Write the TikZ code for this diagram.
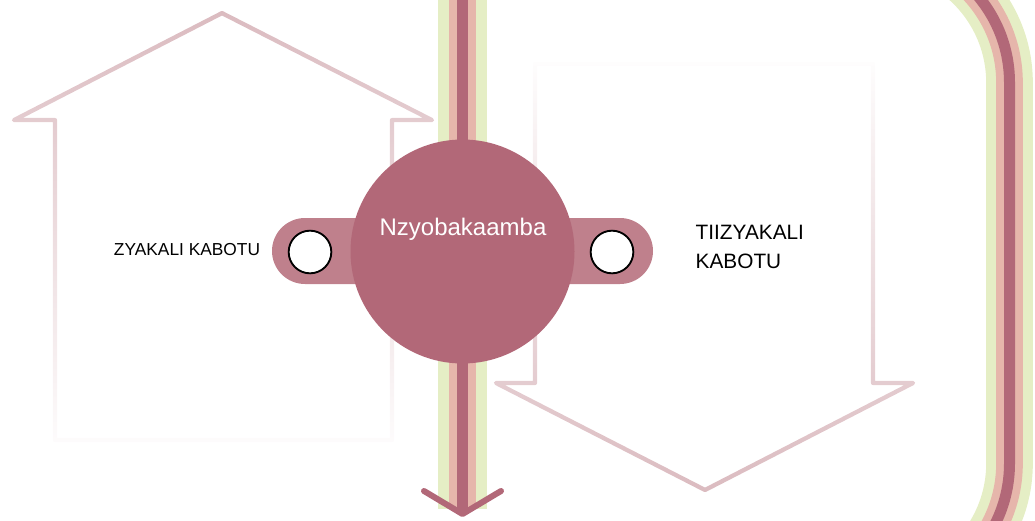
\documentclass[tikz,border=0pt]{standalone}
\usepackage{fontspec}
\setmainfont{Liberation Sans}
\usetikzlibrary{fadings}

\definecolor{hubcol}{HTML}{B26878}
\definecolor{pillcol}{HTML}{BF808C}
\definecolor{leafcol}{HTML}{E5EEC5}
\definecolor{peachcol}{HTML}{E6B6AB}
\definecolor{edgecol}{HTML}{DBBBC0}

\tikzfading[name=fadelow, top color=transparent!0, middle color=transparent!5, bottom color=transparent!95]
\tikzfading[name=fadehigh, top color=transparent!97, middle color=transparent!10, bottom color=transparent!0]

\tikzset{
  block arrow/.style={draw=edgecol, line width=3.2pt, line join=round},
  hole/.style={circle, draw=black, line width=1.4pt, fill=white, minimum size=32pt, inner sep=0pt}
}

\begin{document}
\begin{tikzpicture}[x=0.75pt, y=-0.75pt]
 \useasboundingbox (0,0) rectangle (1035,521);
 \clip (0,0) rectangle (1035,521);
 % right bracket
 \draw [leafcol, line width=35pt, rounded corners=101pt] (700,-52) -- (1009.5,-52) -- (1009.5,598) -- (700,598);
 \draw [peachcol, line width=20pt, rounded corners=101pt] (700,-52) -- (1009.5,-52) -- (1009.5,598) -- (700,598);
 \draw [hubcol, line width=8.25pt, rounded corners=101pt] (700,-52) -- (1009.5,-52) -- (1009.5,598) -- (700,598);
 % middle stripe
 \draw [leafcol, line width=36.5pt] (462.5,-5) -- (462.5,509);
 \draw [peachcol, line width=20pt] (462.5,-5) -- (462.5,509);
 \draw [hubcol, line width=8.25pt] (462.5,-5) -- (462.5,512);
 \draw [hubcol, line width=4.5pt, line cap=round, line join=round] (424,491) -- (462.5,514) -- (501,491);
 % block arrows
 \draw [block arrow, path fading=fadelow] (55,440) -- (55,120) -- (14,120) -- (222,13) -- (432,120) -- (392,120) -- (392,440) -- cycle;
 \draw [block arrow, path fading=fadehigh] (535,64) -- (535,383) -- (496,383) -- (705,490) -- (913,383) -- (873,383) -- (873,64) -- cycle;
 % hub
 \fill [pillcol, rounded corners=24.75pt] (272,218) rectangle (653,284);
 \node [hole] (lefthole) at (310,252) {};
 \node [hole] (righthole) at (612,252) {};
 \node [circle, fill=hubcol, minimum size=168pt, inner sep=0pt] (hub) at (462.5,251.5) {};
 \node [text=white, font=\fontsize{18}{22}\selectfont] (hubtext) at (463,229) {Nzyobakaamba};
 \node [font=\fontsize{13}{15}\selectfont] (lefttext) at (187,250) {ZYAKALI KABOTU};
 \node [font=\fontsize{15.6}{21.75}\selectfont, align=left, anchor=west] (righttext) at (691,246.5) {TIIZYAKALI\\KABOTU};
\end{tikzpicture}
\end{document}
